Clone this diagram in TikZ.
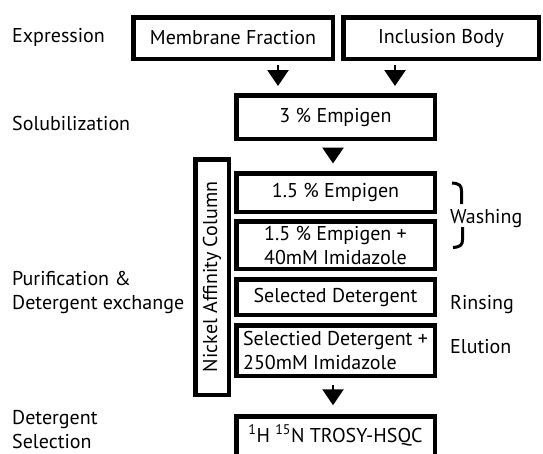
\documentclass[tikz,border=0pt]{standalone}
\usepackage{fontspec}
\setmainfont{PT Sans}
\usetikzlibrary{arrows.meta, positioning}

\begin{document}
\begin{tikzpicture}[x=1pt, y=-1pt,
  box/.style={draw, line width=4.5pt, inner sep=2pt, font=\fontsize{20}{24}\selectfont},
  lbl/.style={inner sep=0pt, font=\fontsize{20}{24}\selectfont},
  arr/.style={-{Triangle[length=16pt, width=21pt]}, line width=2.6pt}]
\useasboundingbox (0,0) rectangle (543,453);
\clip (0,0) rectangle (543,453);

\node[box, minimum width=199.5, minimum height=41.5] (mem) at (233,38) {Membrane Fraction};
\node[box, minimum width=195.5, minimum height=41.5] (inc) at (441,38) {Inclusion Body};
\node[box, minimum width=198.5, minimum height=43.5] (sol) at (335.5,117) {3 \% Empigen};

\node[box, rotate=90, minimum width=235.5, minimum height=33.5, inner sep=0pt] (col) at (212,277) {Nickel Affinity Column};

\node[box, minimum width=198.5, minimum height=38.5] (wa) at (335.5,192.5) {1.5 \% Empigen};
\node[box, minimum width=198.5, minimum height=47.5, inner sep=0pt, align=center] (wb) at (335.5,245) {1.5 \% Empigen +\\40mM Imidazole};
\node[box, minimum width=198.5, minimum height=35.5] (ri) at (335.5,297) {Selected Detergent};
\node[box, minimum width=198.5, minimum height=50.5, inner sep=0pt, align=left] (el) at (335.5,350.5) {Selectied Detergent +\\250mM Imidazole};
\node[box, minimum width=198.5, text height=23.75pt, text depth=30pt, anchor=north] (nmr) at (335.5,414.25) {\textsuperscript{1}H \textsuperscript{15}N TROSY-HSQC};

% arrows
\draw[arr, shorten <=4pt, shorten >=7pt] ([xshift=45]mem.south) -- ([xshift=45]mem.south |- sol.north);
\draw[arr, shorten <=4pt, shorten >=7pt] ([xshift=-46]inc.south) -- ([xshift=-46]inc.south |- sol.north);
\draw[arr, shorten <=8pt, shorten >=7.5pt] ([xshift=-2.5]sol.south) -- ([xshift=-2.5]sol.south |- wa.north);
\draw[arr, shorten <=7pt, shorten >=9pt] ([xshift=-2.5]el.south) -- ([xshift=-2.5]el.south |- nmr.north);

% stage labels
\node[lbl, anchor=base west] (expr) at (12,42) {Expression};
\node[lbl, anchor=base west] (solu) at (12,130) {Solubilization};
\node[lbl, anchor=west, align=left] (puri) at (12,292) {Purification \&\\Detergent exchange};
\node[lbl, anchor=west, align=left] (sel) at (12,430) {Detergent\\Selection};

\node[lbl, anchor=base west] (wash) at (450,223) {Washing};
\node[lbl, anchor=base west] (rins) at (450,309) {Rinsing};
\node[lbl, anchor=base west] (elu) at (450,353.5) {Elution};

% bracket
\draw[line width=3pt] (452,183) .. controls (460,183.5) and (461.5,186) .. (461.5,191) -- (461.5,204);
\draw[line width=3pt] (462.5,227) -- (462.5,240) .. controls (462.5,245) and (460,247) .. (453,247.5);

\end{tikzpicture}
\end{document}
